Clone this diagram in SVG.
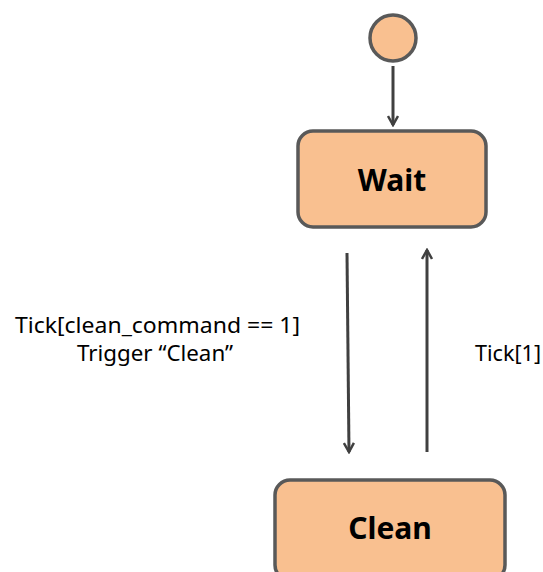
<svg xmlns="http://www.w3.org/2000/svg" width="543" height="572" viewBox="0 0 543 572">
<defs>
<style>
.node{fill:#F9C090;stroke:#595959;stroke-width:3.5}
.title{font-family:"Noto Sans","Open Sans",sans-serif;font-weight:bold;font-size:30px;fill:#000;text-anchor:middle}
.lbl{font-family:"Noto Sans","Open Sans",sans-serif;font-size:21px;fill:#000}
.edge{stroke:#404040;stroke-width:3;fill:none;marker-end:url(#ah)}
</style>
<marker id="ah" viewBox="0 0 12 12" refX="10" refY="6" markerWidth="12" markerHeight="12" markerUnits="userSpaceOnUse" orient="auto">
<path d="M1,1 L10,6 L1,11" fill="none" stroke="#404040" stroke-width="2.5"/>
</marker>
</defs>
<rect width="543" height="572" fill="#fff"/>
<g id="start"><circle class="node" cx="393" cy="38" r="23" stroke-width="3"/></g>
<g id="wait"><rect class="node" x="298" y="131" width="188" height="96" rx="15"/><text class="title" x="392" y="191">Wait</text></g>
<g id="clean"><rect class="node" x="275" y="480" width="230" height="100" rx="15"/><text class="title" x="390" y="539">Clean</text></g>
<g id="connectors">
<line class="edge" x1="393" y1="66" x2="393" y2="125"/>
<line class="edge" x1="347" y1="253" x2="349" y2="452"/>
<line class="edge" x1="427" y1="452" x2="427" y2="250"/>
</g>
<g id="labels">
<text class="lbl" x="15" y="333" textLength="285" lengthAdjust="spacingAndGlyphs">Tick[clean_command == 1]</text>
<text class="lbl" x="77" y="361" textLength="156" lengthAdjust="spacingAndGlyphs">Trigger “Clean”</text>
<text class="lbl" x="475" y="361" textLength="66" lengthAdjust="spacingAndGlyphs">Tick[1]</text>
</g>
</svg>
